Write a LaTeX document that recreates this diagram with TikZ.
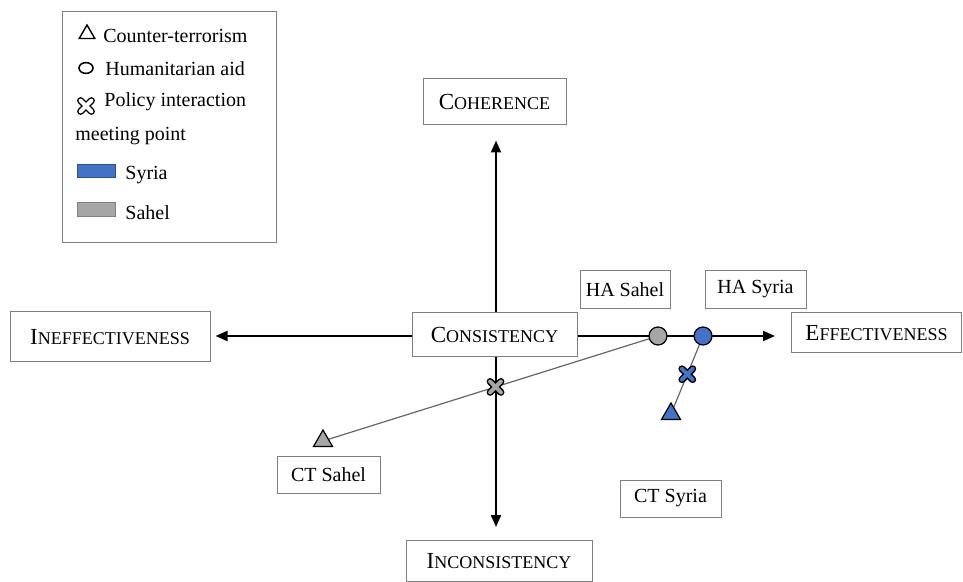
\documentclass[tikz,border=0pt]{standalone}
\usepackage{fontspec}
\setmainfont{Liberation Serif}
\usetikzlibrary{arrows.meta,shapes.geometric}
\definecolor{syriablue}{HTML}{4472C4}
\definecolor{sahelgrey}{HTML}{A6A6A6}
\definecolor{boxline}{HTML}{7F7F7F}
% fake small caps: first letter big, rest smaller
\newcommand\smcap[2]{#1{\fontsize{9}{10}\selectfont #2}}
% policy interaction cross
\newcommand\polcross[2]{%
  \draw[line width=3.5pt,line cap=round] ([shift={(-2.7pt,-2.7pt)}]#1) -- ([shift={(2.7pt,2.7pt)}]#1)
    ([shift={(-2.7pt,2.7pt)}]#1) -- ([shift={(2.7pt,-2.7pt)}]#1);
  \draw[line width=2pt,line cap=round,#2] ([shift={(-2.7pt,-2.7pt)}]#1) -- ([shift={(2.7pt,2.7pt)}]#1)
    ([shift={(-2.7pt,2.7pt)}]#1) -- ([shift={(2.7pt,-2.7pt)}]#1);}

\begin{document}
\begin{tikzpicture}[x=0.5pt,y=-0.5pt,>={Triangle[length=6pt,width=5pt]},
 axbox/.style={draw=boxline,fill=white,line width=0.5pt,inner sep=0pt,
  minimum height=22pt,font=\fontsize{11.5}{13}\selectfont},
 tagbox/.style={draw=boxline,fill=white,line width=0.5pt,inner sep=0pt,
  minimum height=19pt,font=\fontsize{10}{12}\selectfont},
 axis/.style={->,line width=1pt},
 link/.style={draw=black!60,line width=0.6pt},
 hamark/.style={circle,draw=black,line width=0.6pt,minimum size=9pt,inner sep=0pt},
 ctmark/.style={regular polygon,regular polygon sides=3,draw=black,line width=0.6pt,
  minimum size=11pt,inner sep=0pt},
 legtext/.style={anchor=west,inner sep=0pt,font=\fontsize{10}{12}\selectfont}]
\useasboundingbox (0,0) rectangle (963,582);

% legend
\draw[boxline,line width=0.5pt] (62,12) rectangle (276,243);
\node[ctmark,minimum size=9pt,line width=0.7pt] (legct) at (87,34) {};
\node[legtext] (legcttext) at (103,36) {Counter-terrorism};
\draw[line width=0.8pt] (86,68) ellipse (3.5pt and 2.7pt);
\coordinate (legha) at (86,68);
\node[legtext] (leghatext) at (105,69) {Humanitarian aid};
\coordinate (legx) at (86,106);
\polcross{legx}{white}
\node[legtext] (legxtext) at (104,102) {Policy interaction};
\node[legtext] (legxtext2) at (75,136) {meeting point};
\draw[draw=syriablue!70!black,fill=syriablue,line width=0.5pt] (77,165) rectangle (115,178);
\node[legtext] (legsyria) at (125,175) {Syria};
\draw[draw=black!50,fill=sahelgrey,line width=0.5pt] (77,203) rectangle (115,217);
\node[legtext] (legsahel) at (125,213) {Sahel};

% axes boxes
\coordinate (origin) at (496,336);
\node[axbox,minimum width=71.5pt,minimum height=23pt] (coh) at (494.5,102) {\smcap{C}{OHERENCE}};
\node[axbox,minimum width=82.5pt] (cons) at (494.5,335) {\smcap{C}{ONSISTENCY}};
\node[axbox,minimum width=100pt,minimum height=25pt] (ineff) at (110,337) {\smcap{I}{NEFFECTIVENESS}};
\node[axbox,minimum width=85pt,minimum height=20pt] (eff) at (876.5,333) {\smcap{E}{FFECTIVENESS}};
\node[axbox,minimum width=93pt,minimum height=20.5pt] (incons) at (499,561) {\smcap{I}{NCONSISTENCY}};

\draw[axis,shorten >=7.5pt] (origin |- cons.north) -- (origin |- coh.south);
\draw[axis,shorten >=6.5pt] (origin |- cons.south) -- (origin |- incons.north);
\draw[axis,shorten >=2.5pt] (origin -| cons.west) -- (origin -| ineff.east);
\draw[axis,shorten >=8pt] (origin -| cons.east) -- (origin -| eff.west);

% labels
\node[tagbox,minimum width=45pt] (hasahellbl) at (625,289.5) {HA Sahel};
\node[tagbox,minimum width=50.5pt] (hasyrialbl) at (755.5,289.5) {HA Syria};
\node[tagbox,minimum width=51.5pt,minimum height=18.5pt] (ctsahellbl) at (328.5,474.5) {CT Sahel};
\node[tagbox,minimum width=50.5pt,minimum height=18.5pt] (ctsyrialbl) at (670.5,498.5) {CT Syria};

% policy positions
\coordinate (hasahelpt) at (658,336);
\coordinate (ctsahelpt) at (323,441);
\coordinate (hasyriapt) at (703,336);
\coordinate (ctsyriapt) at (671,414);
\draw[link] (hasahelpt) -- coordinate[pos=0.485] (xsahel) (ctsahelpt);
\draw[link] (hasyriapt) -- coordinate[pos=0.49] (xsyria) (ctsyriapt);
\node[hamark,fill=sahelgrey] (hasahel) at (hasahelpt) {};
\node[hamark,fill=syriablue] (hasyria) at (hasyriapt) {};
\node[ctmark,fill=sahelgrey] (ctsahel) at (ctsahelpt) {};
\node[ctmark,fill=syriablue] (ctsyria) at (ctsyriapt) {};
\polcross{xsahel}{sahelgrey}
\polcross{xsyria}{syriablue}
\end{tikzpicture}
\end{document}
